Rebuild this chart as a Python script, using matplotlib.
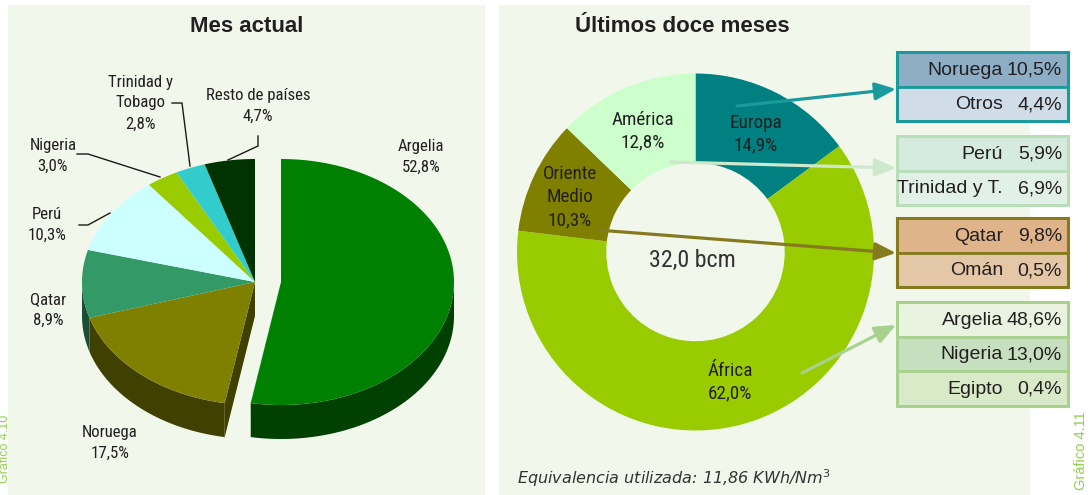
import numpy as np
import matplotlib
matplotlib.use("Agg")
import matplotlib.pyplot as plt
from matplotlib import font_manager as fm
from matplotlib.font_manager import FontProperties
from matplotlib.patches import Polygon, Rectangle, FancyArrowPatch

# ---------------- data ----------------
# Mes actual (3D pie, clockwise from 12 o'clock)
month_names = ["Argelia", "Noruega", "Qatar", "Perú", "Nigeria", "Trinidad y\nTobago", "Resto de países"]
month_share = [52.8, 17.5, 8.9, 10.3, 3.0, 2.8, 4.7]
month_top = ["#008000", "#808000", "#339966", "#ccffff", "#99cc00", "#33cccc", "#003300"]
month_side = ["#004000", "#404000", "#1a4d33", "#669999", "#4d6600", "#1a6666", "#001a00"]
month_explode = [26, 0, 0, 0, 0, 0, 0]

# Últimos doce meses (donut, clockwise from 12 o'clock)
region_names = ["Europa", "África", "Oriente\nMedio", "América"]
region_share = [14.9, 62.0, 10.3, 12.8]
region_colors = ["#008080", "#99cc00", "#808000", "#ccffcc"]
total_label = "32,0 bcm"

# Breakdown boxes
box_groups = [
    (["Noruega", "Otros"], [10.5, 4.4], ["#8eaec6", "#d0dde9"], "#1a9a9a"),
    (["Perú", "Trinidad y T."], [5.9, 6.9], ["#d6ebdf", "#e2f1e7"], "#b8dfb8"),
    (["Qatar", "Omán"], [9.8, 0.5], ["#dfb48a", "#e4c7a6"], "#857a1e"),
    (["Argelia", "Nigeria", "Egipto"], [48.6, 13.0, 0.4], ["#eaf3e0", "#c6e0bf", "#d8eac8"], "#a9d18e"),
]


def pct(v):
    return f"{v:.1f}".replace(".", ",") + "%"


def narrow_font():
    entries = fm.fontManager.ttflist
    names = {e.name for e in entries}
    for n in ["Liberation Sans Narrow", "Roboto Condensed", "Open Sans Condensed",
              "Noto Sans Condensed", "DejaVu Sans Condensed"]:
        if n in names:
            return dict(family=[n, "DejaVu Sans"])
    for n in ["Roboto", "Noto Sans", "Open Sans", "DejaVu Sans"]:
        for e in entries:
            if e.name == n and "condensed" in str(e.stretch):
                return dict(family=[n, "DejaVu Sans"], fontstretch=e.stretch)
    return dict(family=["DejaVu Sans"])


NARROW = narrow_font()
SANS = ["Liberation Sans", "DejaVu Sans"]
PANEL = "#f2f7ec"
INK = "#231f20"

W, H = 1090, 495
fig = plt.figure(figsize=(W / 100, H / 100), dpi=100)
fig.patch.set_facecolor("white")
renderer = fig.canvas.get_renderer()


def size_for(sample, target_px, **font):
    """Font size (pt) at which `sample` is `target_px` pixels wide."""
    fp = FontProperties(size=10, **font)
    w, _, _ = renderer.get_text_width_height_descent(sample, fp, ismath=False)
    return 10 * target_px / w


pie_fs = min(size_for("Noruega", 56, **NARROW), 13)
ring_fs = min(size_for("América", 62, **NARROW), 15)
total_fs = min(size_for(total_label, 86, **NARROW), 20)

# background layer (pixel coordinates, y downward)
bg = fig.add_axes([0, 0, 1, 1], zorder=0)
bg.set_xlim(0, W)
bg.set_ylim(H, 0)
bg.axis("off")
bg.add_patch(Rectangle((8, 5), 477, 495, facecolor=PANEL, edgecolor="none"))
bg.add_patch(Rectangle((499, 5), 531, 495, facecolor=PANEL, edgecolor="none"))

# donut layer
dcx, dcy, dr = 695.5, 252.0, 178.5
dax = fig.add_axes([(dcx - dr) / W, (H - dcy - dr) / H, 2 * dr / W, 2 * dr / H], zorder=1)
dax.pie(region_share, colors=region_colors, startangle=90, counterclock=False,
        wedgeprops=dict(width=0.5, edgecolor="none"))
dax.set_xlim(-1, 1)
dax.set_ylim(-1, 1)
dax.set_aspect("equal")
dax.axis("off")

# overlay layer for the 3D pie, text and arrows
ax = fig.add_axes([0, 0, 1, 1], zorder=2)
ax.set_xlim(0, W)
ax.set_ylim(H, 0)
ax.axis("off")
ax.patch.set_visible(False)

# ---------------- 3D pie ----------------
cx, cy, rx, ry, depth = 255.0, 282.0, 173.0, 123.0, 34.0
fr = np.array(month_share) / np.sum(month_share) * 360.0
bounds = np.concatenate([[0], np.cumsum(fr)])
n = len(month_share)


def rim(theta, ox, dy=0.0):
    t = np.radians(theta)
    return np.column_stack([cx + ox + rx * np.sin(t), cy + dy - ry * np.cos(t)])


faces, walls, tops = [], [], []
for i, (a0, a1) in enumerate(zip(bounds[:-1], bounds[1:])):
    ox = month_explode[i]
    # cut faces exposed where a neighbouring slice is pulled out
    for ang, normal, nb in ((a0, a0 - 90, (i - 1) % n), (a1, a1 + 90, (i + 1) % n)):
        if month_explode[nb] != ox and np.cos(np.radians(normal - 180)) > 0.02:
            p = rim(np.array([ang]), ox)[0]
            c = np.array([cx + ox, cy])
            faces.append(Polygon([c, p, p + [0, depth], c + [0, depth]], closed=True,
                                 facecolor=month_side[i], edgecolor="none"))
    # front outer wall
    w0, w1 = max(a0, 90), min(a1, 270)
    if w1 > w0:
        th = np.linspace(w0, w1, 80)
        poly = np.vstack([rim(th, ox), rim(th[::-1], ox, depth)])
        walls.append(Polygon(poly, closed=True, facecolor=month_side[i], edgecolor="none"))
    # top surface
    th = np.linspace(a0, a1, 150)
    poly = np.vstack([[cx + ox, cy], rim(th, ox)])
    tops.append(Polygon(poly, closed=True, facecolor=month_top[i], edgecolor="none"))

for p in faces + walls + tops:
    ax.add_patch(p)

# pie labels
label_pos = [(421, 157), (110, 443), (48, 310), (47, 225), (53, 156), (140, 103), (258, 106)]
for name, v, (lx, ly) in zip(month_names, month_share, label_pos):
    ax.text(lx, ly, f"{name}\n{pct(v)}", ha="center", va="center", fontsize=pie_fs,
            color=INK, linespacing=1.5, **NARROW)

leaders = [
    [(258, 136), (258, 146), (228, 160)],
    [(172, 103), (182, 103), (190, 166)],
    [(77, 154), (88, 154), (160, 177)],
    [(79, 225), (88, 225), (110, 213)],
]
for pts in leaders:
    xs, ys = zip(*pts)
    ax.plot(xs, ys, color="#1a1a1a", lw=1.0)

ax.text(247, 26, "Mes actual", ha="center", va="center", fontsize=16,
        fontweight="bold", family=SANS, color=INK)

# ---------------- donut labels ----------------
ax.text(682, 26, "Últimos doce meses", ha="center", va="center", fontsize=16,
        fontweight="bold", family=SANS, color=INK)
region_pos = [(756, 134), (730, 382), (570, 197), (643, 131)]
for name, v, (lx, ly) in zip(region_names, region_share, region_pos):
    ax.text(lx, ly, f"{name}\n{pct(v)}", ha="center", va="center", fontsize=ring_fs,
            color=INK, linespacing=1.35, **NARROW)
ax.text(692, 260, total_label, ha="center", va="center", fontsize=total_fs,
        color="#333333", **NARROW)

# ---------------- breakdown boxes ----------------
bx0, bx1, row_h = 897, 1068, 34.5
group_tops = [52, 136, 218, 302]
for (names, vals, fills, edge), gt in zip(box_groups, group_tops):
    for k, (nm, v, f) in enumerate(zip(names, vals, fills)):
        y0 = gt + k * row_h
        ax.add_patch(Rectangle((bx0, y0), bx1 - bx0, row_h, facecolor=f,
                               edgecolor=edge, lw=2.0))
        ax.text(1003, y0 + row_h / 2 + 1, nm, ha="right", va="center", fontsize=14,
                family=SANS, color=INK)
        ax.text(1062, y0 + row_h / 2 + 1, pct(v), ha="right", va="center", fontsize=14,
                family=SANS, color=INK)
    ax.add_patch(Rectangle((bx0, gt), bx1 - bx0, row_h * len(names), facecolor="none",
                           edgecolor=edge, lw=2.2))

arrows = [
    ((737, 106), (896, 89), "#1a9a9a"),
    ((670, 162), (896, 168), "#cde8cd"),
    ((597, 230), (896, 253), "#857a1e"),
    ((802, 373), (896, 325), "#a9d18e"),
]
for (p0, p1, c) in arrows:
    ax.add_patch(FancyArrowPatch(p0, p1, arrowstyle="-|>,head_length=0.9,head_width=0.38",
                                 mutation_scale=14, color=c, lw=2.3, shrinkA=0, shrinkB=0))

# ---------------- footnote and figure tags ----------------
ax.text(517, 478, r"Equivalencia utilizada: 11,86 KWh/Nm$^3$", ha="left", va="center",
        fontsize=11.5, style="italic", family=["DejaVu Sans"], color="#333333")
ax.text(1081, 451, "Gráfico 4.11", rotation=90, ha="center", va="center", fontsize=10.5,
        family=SANS, color="#92d050")
ax.text(5, 449, "Gráfico 4.10", rotation=90, ha="center", va="center", fontsize=9,
        family=SANS, color="#92d050")

fig.savefig("out.png", dpi=100, facecolor="white")
